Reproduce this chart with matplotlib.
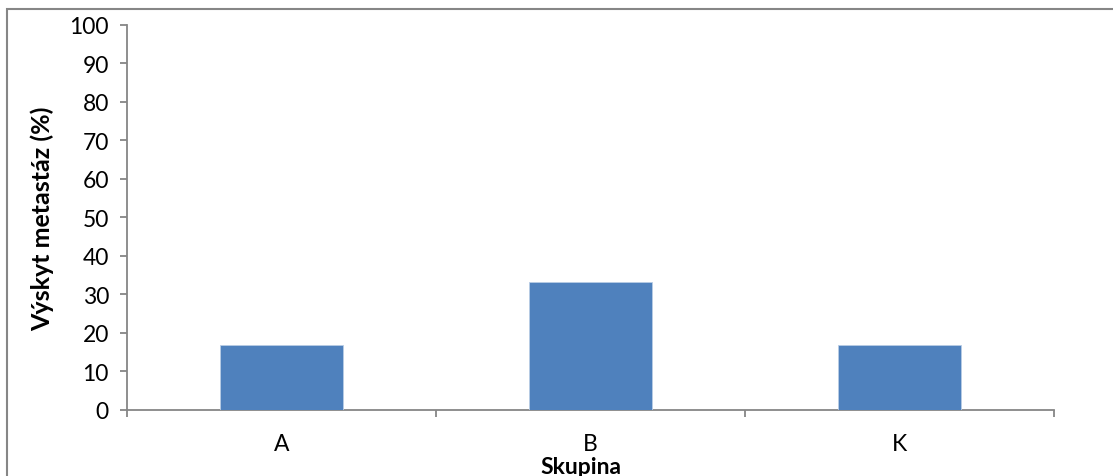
import matplotlib.pyplot as plt
from matplotlib.patches import Rectangle

plt.rcParams['font.family'] = ['Lato', 'DejaVu Sans']

skupiny = ['A', 'B', 'K']
vyskyt = [16.7, 33.3, 16.7]

fig = plt.figure(figsize=(11.13, 4.77), dpi=100)
ax = fig.add_axes([0.1141, 0.139, 0.8330, 0.8065])

x = range(len(skupiny))
ax.bar(x, vyskyt, width=0.4, color='#4f81bd', edgecolor='#b9cde5', linewidth=0.6, zorder=3)

ax.set_xlim(-0.5, len(skupiny) - 0.5)
ax.set_ylim(0, 100)
ax.set_yticks(range(0, 101, 10))
ax.set_xticks(list(x))
ax.set_xticklabels(skupiny)
ax.set_xticks([i - 0.5 for i in range(len(skupiny) + 1)], minor=True)

grey = '#868686'
for side in ['top', 'right']:
    ax.spines[side].set_visible(False)
for side in ['left', 'bottom']:
    ax.spines[side].set_color(grey)
    ax.spines[side].set_linewidth(1.3)

ax.tick_params(axis='y', length=5, width=1.3, color=grey, labelsize=16.5, pad=8)
ax.tick_params(axis='x', which='major', length=0, labelsize=16.5, pad=17)
ax.tick_params(axis='x', which='minor', length=5, width=1.3, color=grey)

ax.set_ylabel('Výskyt metastáz (%)', fontsize=18, fontweight='bold')
ax.set_xlabel('Skupina', fontsize=16.5, fontweight='bold')
ax.yaxis.set_label_coords(-0.079, 0.5)
ax.xaxis.set_label_coords(0.49, -0.12)

# rámeček grafu
fig.patches.append(Rectangle((7 / 1113, -0.1), 1.2, 1.1 - 10 / 477,
                             transform=fig.transFigure, fill=False,
                             edgecolor=grey, linewidth=1.5))

fig.savefig('out.png', dpi=100)
